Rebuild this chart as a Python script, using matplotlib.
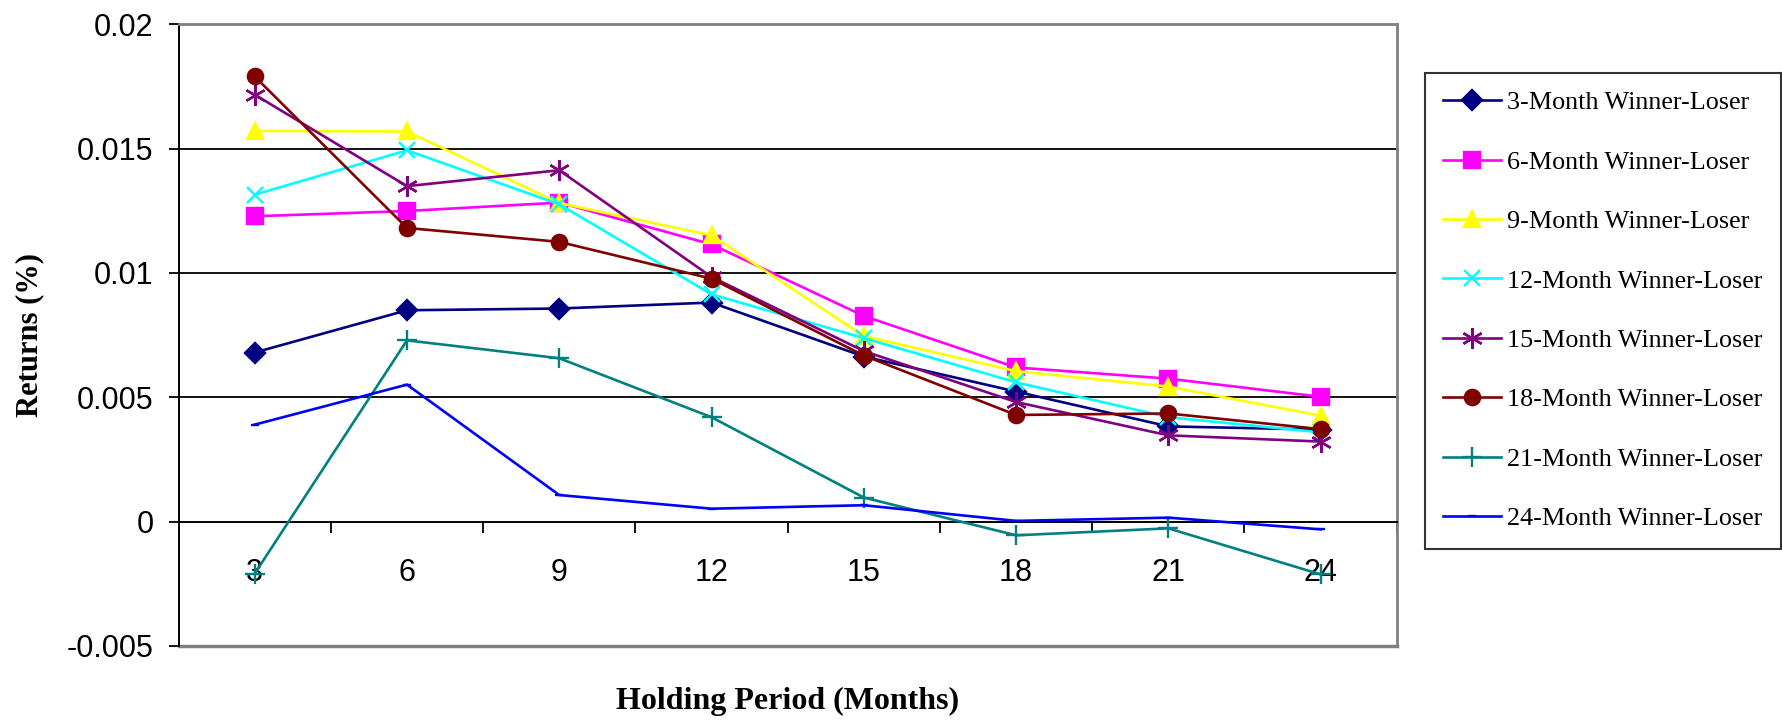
import numpy as np
import matplotlib
matplotlib.use('Agg')
from matplotlib import pyplot as plt

holding = ['3', '6', '9', '12', '15', '18', '21', '24']

m3 = [0.0068, 0.0085, 0.00857, 0.00881, 0.00664, 0.00523, 0.00383, 0.00370]
m6 = [0.01228, 0.01249, 0.01283, 0.01115, 0.00827, 0.00620, 0.00575, 0.00502]
m9 = [0.01571, 0.01569, 0.01281, 0.01151, 0.00746, 0.00605, 0.00543, 0.00426]
m12 = [0.01315, 0.01493, 0.01276, 0.00914, 0.00738, 0.00560, 0.00420, 0.00359]
m15 = [0.01717, 0.01349, 0.01413, 0.00984, 0.00686, 0.00481, 0.00347, 0.00322]
m18 = [0.01790, 0.01181, 0.01125, 0.00977, 0.00668, 0.00429, 0.00435, 0.00372]
m21 = [-0.00209, 0.00729, 0.00657, 0.00420, 0.00097, -0.00055, -0.00027, -0.00212]
m24 = [0.00390, 0.00551, 0.00107, 0.00052, 0.00066, 0.00003, 0.00016, -0.00031]

names = ['3-Month Winner-Loser', '6-Month Winner-Loser', '9-Month Winner-Loser',
         '12-Month Winner-Loser', '15-Month Winner-Loser', '18-Month Winner-Loser',
         '21-Month Winner-Loser', '24-Month Winner-Loser']

plt.rcParams['font.family'] = ['Liberation Sans', 'DejaVu Sans']

fig = plt.figure(figsize=(17.82, 7.2), dpi=100)
ax = fig.add_axes([0.1002, 0.1028, 0.6836, 0.8635])

x = np.arange(len(holding))
styles = [
    ('#000080', 'D', 10),
    ('#FF00FF', 's', 11),
    ('#FFFF00', '^', 12),
    ('#00FFFF', 'x', 12),
    ('#800080', (6, 2, 0), 15),
    ('#800000', 'o', 11),
    ('#008080', '+', 14),
    ('#0000FF', '_', 6),
]
series = [m3, m6, m9, m12, m15, m18, m21, m24]
for vals, name, (col, mk, ms) in zip(series, names, styles):
    ax.plot(x, vals, color=col, lw=1.9, marker=mk, ms=ms, mew=1.7,
            mfc=col, mec=col, label=name, zorder=3)

ax.set_xlim(-0.5, 7.5)
ax.set_ylim(-0.005, 0.02)

yt = [-0.005, 0, 0.005, 0.01, 0.015, 0.02]
ax.set_yticks(yt)
ax.set_yticklabels(['-0.005', '0', '0.005', '0.01', '0.015', '0.02'])
for v in [0.005, 0.01, 0.015]:
    ax.axhline(v, color='black', lw=1.3, zorder=1)

ax.set_xticks(x)
ax.set_xticklabels(holding)
ax.set_xticks(np.arange(0.5, 8, 1), minor=True)
ax.tick_params(axis='x', which='major', length=0, pad=26, labelsize=22)
ax.tick_params(axis='x', which='minor', length=8, width=1.3, direction='out')
ax.tick_params(axis='y', which='major', length=7, width=1.3, pad=11, labelsize=22)

ax.spines['bottom'].set_position(('data', 0))
ax.spines['bottom'].set_linewidth(1.4)
ax.spines['left'].set_linewidth(1.4)
for s in ['top', 'right']:
    ax.spines[s].set_color('#808080')
    ax.spines[s].set_linewidth(2)
ax.axhline(-0.005, color='#808080', lw=2.5, clip_on=False, zorder=2)

fig.text(30 / 1782, 1 - 335 / 720, 'Returns (%)', rotation=90, ha='center', va='center',
         family='Liberation Serif', weight='bold', fontsize=22)
fig.text(788 / 1782, 1 - 709 / 720, 'Holding Period (Months)', ha='center', va='baseline',
         family='Liberation Serif', weight='bold', fontsize=23)

leg = fig.legend(loc='upper left', bbox_to_anchor=(1425 / 1782, 1 - 72.7 / 720),
                 prop={'family': 'Liberation Serif', 'size': 18.8},
                 frameon=True, fancybox=False, handlelength=2.2, handletextpad=0.25,
                 labelspacing=1.385, borderaxespad=0, borderpad=0.7)
leg.get_frame().set_edgecolor('black')
leg.get_frame().set_linewidth(1.5)

fig.savefig('out.png', dpi=100)
